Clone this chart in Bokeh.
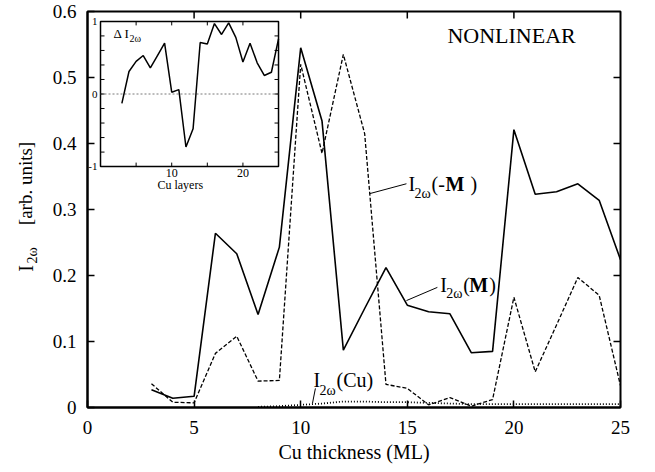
import math
from bokeh.plotting import figure
from bokeh.layouts import row
from bokeh.models import Range1d, FixedTicker, NumeralTickFormatter, Label
from bokeh.embed import file_html
from bokeh.resources import INLINE
from bokeh.core.properties import value

# ---------------- data ----------------
thickness = list(range(3, 26))
i_plus = [0.027, 0.014, 0.017, 0.264, 0.233, 0.141, 0.243, 0.545, 0.434, 0.087, 0.150, 0.212,
          0.155, 0.145, 0.142, 0.083, 0.085, 0.421, 0.323, 0.327, 0.339, 0.314, 0.224]
i_minus = [0.036, 0.008, 0.007, 0.082, 0.108, 0.040, 0.041, 0.520, 0.385, 0.535, 0.415, 0.035,
           0.029, 0.004, 0.015, 0.002, 0.012, 0.167, 0.054, 0.125, 0.197, 0.170, 0.033]
cu_thickness = list(range(8, 26))
i_cu = [0.001, 0.002, 0.004, 0.006, 0.009, 0.009, 0.008, 0.008, 0.007, 0.006, 0.005, 0.005,
        0.005, 0.005, 0.005, 0.005, 0.005, 0.005]
layers = list(range(3, 26))
delta_i = [-0.13, 0.31, 0.45, 0.53, 0.36, 0.53, 0.70, 0.025, 0.06, -0.73, -0.48, 0.71,
           0.69, 0.97, 0.82, 0.98, 0.78, 0.44, 0.70, 0.43, 0.255, 0.30, 0.76]

x_ticks = [0, 5, 10, 15, 20, 25]
y_ticks = [0, 0.1, 0.2, 0.3, 0.4, 0.5, 0.6]
x_lim = [0, 25]
y_lim = [0, 0.6]
inset_x_ticks = [5, 10, 15, 20]
inset_x_labelled = [10, 20]
inset_x_labels = ["10", "20"]
inset_y_ticks = [-0.8, -0.6, -0.4, -0.2, 0.0, 0.2, 0.4, 0.6, 0.8]
inset_y_labelled = [1, 0, -1]
inset_y_labels = ["1", "0", "-1"]
inset_xlim = [0, 25]
inset_ylim = [-1, 1]

FONT = "Liberation Serif"

# ---------------- main figure ----------------
p = figure(width=607, height=472, output_backend="svg", toolbar_location=None,
           x_range=Range1d(*x_lim), y_range=Range1d(*y_lim),
           min_border_left=39, min_border_right=35, min_border_top=11, min_border_bottom=65)
p.grid.visible = False
p.outline_line_color = "black"
p.outline_line_width = 2
p.background_fill_color = "white"

xa = p.xaxis[0]
ya = p.yaxis[0]
xa.ticker = FixedTicker(ticks=x_ticks)
ya.ticker = FixedTicker(ticks=y_ticks)
xa.formatter = NumeralTickFormatter(format="0")
ya.formatter = NumeralTickFormatter(format="0.[0]")
for ax in [xa, ya]:
    ax.major_tick_in = 7
    ax.major_tick_out = 0
    ax.minor_tick_in = 0
    ax.minor_tick_out = 0
    ax.axis_line_width = 2
    ax.major_tick_line_width = 1.5
    ax.major_label_text_font = FONT
    ax.major_label_text_color = "black"
    ax.major_label_text_font_size = "19px"
xa.major_label_standoff = 13
ya.major_label_standoff = 11
xa.axis_label = "Cu thickness (ML)"
xa.axis_label_text_font = FONT
xa.axis_label_text_font_size = "20px"
xa.axis_label_text_font_style = "normal"
xa.axis_label_text_color = "black"
xa.axis_label_standoff = 4

# ticks on the top and right frame edges
p.ray(x=x_ticks[1:-1], y=y_lim[1], length=7, length_units="screen", angle=-math.pi / 2,
      line_color="black", line_width=1.5)
p.ray(x=x_lim[1], y=y_ticks[1:-1], length=7, length_units="screen", angle=math.pi,
      line_color="black", line_width=1.5)

# ---------------- main curves ----------------
p.line(thickness, i_plus, line_color="black", line_width=1.6)
p.line(thickness, i_minus, line_color="black", line_width=1.3, line_dash="4 2")
p.line(cu_thickness, i_cu, line_color="black", line_width=1.8, line_dash="1 2")

# ---------------- inset ----------------
inset = p.subplot(x_source=Range1d(*inset_xlim), y_source=Range1d(*inset_ylim),
                  x_target=Range1d(0.61, 8.96), y_target=Range1d(0.365, 0.585))
inset.quad(left=[inset_xlim[0]], right=[inset_xlim[1]], bottom=[inset_ylim[0]], top=[inset_ylim[1]],
           fill_color="white", line_color="black", line_width=1.5)
inset.line(x=inset_xlim, y=[0, 0], line_color="#555555", line_width=0.8, line_dash="2 2")
inset.line(layers, delta_i, line_color="black", line_width=1.5)
inset.ray(x=inset_x_ticks, y=inset_ylim[0], length=4, length_units="screen", angle=math.pi / 2,
          line_color="black", line_width=1)
inset.ray(x=inset_x_ticks, y=inset_ylim[1], length=4, length_units="screen", angle=-math.pi / 2,
          line_color="black", line_width=1)
inset.ray(x=inset_xlim[0], y=inset_y_ticks, length=4, length_units="screen", angle=0,
          line_color="black", line_width=1)
inset.ray(x=inset_xlim[1], y=inset_y_ticks, length=4, length_units="screen", angle=math.pi,
          line_color="black", line_width=1)
inset.text(x=inset_x_labelled, y=inset_ylim[0], text=inset_x_labels, y_offset=2,
           text_align="center", text_baseline="top", text_font=value(FONT),
           text_font_size="12px", text_color="black")
inset.text(x=inset_xlim[0], y=inset_y_labelled, text=inset_y_labels, x_offset=-3,
           text_align="right", text_baseline="middle", text_font=value(FONT),
           text_font_size="11px", text_color="black")
inset.text(x=[11.2], y=[-1.26], text=["Cu layers"], text_align="center", text_baseline="middle",
           text_font=value(FONT), text_font_size="12px", text_color="black")
inset.text(x=[1.83], y=[0.835], text=["\u0394 I"], text_align="left", text_baseline="middle",
           text_font=value(FONT), text_font_size="13px", text_color="black")
inset.text(x=[1.83], y=[0.77], text=["2\u03c9"], x_offset=16, text_align="left",
           text_baseline="middle", text_font=value(FONT), text_font_size="10px", text_color="black")


def lab(x, y, text, dx=0, size="20px", style="normal", align="left"):
    p.add_layout(Label(x=x, y=y, x_units="data", y_units="data", text=text, x_offset=dx,
                       text_font=FONT, text_font_size=size, text_font_style=style,
                       text_align=align, text_baseline="middle", text_color="black"))


# NONLINEAR
lab(19.89, 0.5636, "NONLINEAR", size="22px", align="center")

# I2w(-M)
lab(15.06, 0.339, "I")
lab(15.06, 0.325, "2\u03c9", dx=6, size="14px")
lab(15.06, 0.339, "(-", dx=23)
lab(15.06, 0.339, "M", dx=37, style="bold")
lab(15.06, 0.339, ")", dx=62)
p.line(x=[13.23, 14.96], y=[0.324, 0.339], line_color="black", line_width=1)

# I2w(M)
lab(16.55, 0.186, "I")
lab(16.55, 0.172, "2\u03c9", dx=6, size="14px")
lab(16.55, 0.186, "(", dx=23)
lab(16.55, 0.186, "M", dx=29, style="bold")
lab(16.55, 0.186, ")", dx=49)
p.line(x=[14.96, 16.41], y=[0.162, 0.182], line_color="black", line_width=1)

# I2w(Cu)
lab(10.6, 0.041, "I")
lab(10.6, 0.026, "2\u03c9", dx=6, size="14px")
lab(10.6, 0.041, "(Cu)", dx=23)
p.line(x=[10.69, 10.55], y=[0.029, 0.006], line_color="black", line_width=1)

# ---------------- y-axis title panel (frame aligns with the main frame) ----------------
t = figure(width=48, height=472, output_backend="svg", toolbar_location=None,
           x_range=Range1d(0, 48), y_range=Range1d(0, 396),
           x_axis_type=None, y_axis_type=None,
           min_border_left=0, min_border_right=0, min_border_top=0, min_border_bottom=0)
t.grid.visible = False
t.outline_line_color = None
t.text(x=[25], y=[224], text=["[arb. units]"], angle=math.pi / 2, text_align="center",
       text_baseline="middle", text_font=value(FONT), text_font_size="19px", text_color="black")
t.text(x=[25], y=[139], text=["I"], angle=math.pi / 2, text_align="center",
       text_baseline="middle", text_font=value(FONT), text_font_size="20px", text_color="black")
t.text(x=[32], y=[152], text=["2\u03c9"], angle=math.pi / 2, text_align="center",
       text_baseline="middle", text_font=value(FONT), text_font_size="14px", text_color="black")

layout = row(t, p)
open("out.html", "w").write(file_html(layout, INLINE))
